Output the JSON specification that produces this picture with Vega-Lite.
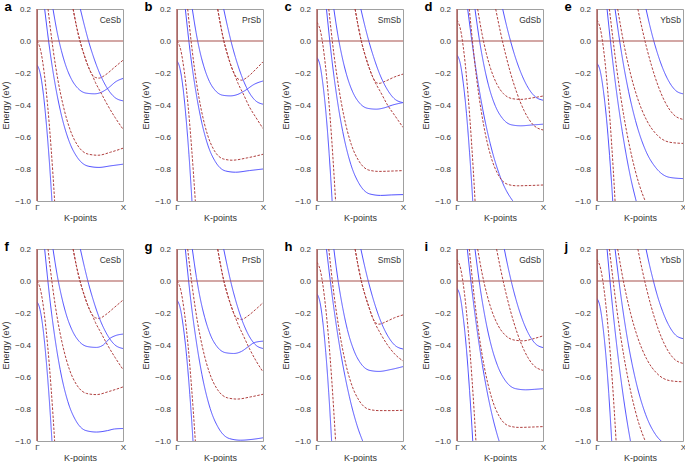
{
"$schema":"https://vega.github.io/schema/vega-lite/v6.json",
"padding":{"left":0,"top":0,"right":0,"bottom":0},
"config":{"font":"Liberation Sans","view":{"stroke":"#a0a0a0","strokeWidth":1},
"axis":{"ticks":false,"domain":false,"grid":false,"labelFontSize":8,"titleFontSize":9,"titleFontWeight":"normal","labelColor":"#333","titleColor":"#333","labelOverlap":false,"labelBound":false},
"axisY":{"labelPadding":6.5,"titlePadding":4.7,"tickCount":7},"axisX":{"labelPadding":2,"titlePadding":2},
"title":{"anchor":"start","frame":"group","dx":-32.5,"fontSize":13,"fontWeight":"bold","color":"#000","offset":-9,"baseline":"alphabetic"}},
"datasets":{"bands":[
{"p":"a","l":1,"t":"r","k":0,"e":0},{"p":"a","l":1,"t":"r","k":0.041,"e":-0.055},{"p":"a","l":1,"t":"r","k":0.082,"e":-0.192},{"p":"a","l":1,"t":"r","k":0.123,"e":-0.399},{"p":"a","l":1,"t":"r","k":0.164,"e":-0.669},{"p":"a","l":1,"t":"r","k":0.205,"e":-1},{"p":"a","l":1,"t":"r","k":0.215,"e":-1.092},
{"p":"a","l":2,"t":"b","k":0,"e":-0.15},{"p":"a","l":2,"t":"b","k":0.035,"e":-0.197},{"p":"a","l":2,"t":"b","k":0.07,"e":-0.313},{"p":"a","l":2,"t":"b","k":0.104,"e":-0.489},{"p":"a","l":2,"t":"b","k":0.139,"e":-0.719},{"p":"a","l":2,"t":"b","k":0.174,"e":-1},{"p":"a","l":2,"t":"b","k":0.183,"e":-1.078},
{"p":"a","l":3,"t":"b","k":0.089,"e":0.2},{"p":"a","l":3,"t":"b","k":0.152,"e":-0.068},{"p":"a","l":3,"t":"b","k":0.215,"e":-0.283},{"p":"a","l":3,"t":"b","k":0.278,"e":-0.45},{"p":"a","l":3,"t":"b","k":0.373,"e":-0.626},{"p":"a","l":3,"t":"b","k":0.468,"e":-0.727},{"p":"a","l":3,"t":"b","k":0.594,"e":-0.782},{"p":"a","l":3,"t":"b","k":0.72,"e":-0.79},{"p":"a","l":3,"t":"b","k":0.86,"e":-0.78},{"p":"a","l":3,"t":"b","k":1,"e":-0.77},
{"p":"a","l":4,"t":"r","k":0.128,"e":0.2},{"p":"a","l":4,"t":"r","k":0.186,"e":-0.048},{"p":"a","l":4,"t":"r","k":0.244,"e":-0.246},{"p":"a","l":4,"t":"r","k":0.303,"e":-0.4},{"p":"a","l":4,"t":"r","k":0.39,"e":-0.562},{"p":"a","l":4,"t":"r","k":0.477,"e":-0.656},{"p":"a","l":4,"t":"r","k":0.594,"e":-0.707},{"p":"a","l":4,"t":"r","k":0.71,"e":-0.714},{"p":"a","l":4,"t":"r","k":0.855,"e":-0.695},{"p":"a","l":4,"t":"r","k":1,"e":-0.67},
{"p":"a","l":5,"t":"b","k":0.186,"e":0.2},{"p":"a","l":5,"t":"b","k":0.234,"e":0.056},{"p":"a","l":5,"t":"b","k":0.283,"e":-0.059},{"p":"a","l":5,"t":"b","k":0.331,"e":-0.148},{"p":"a","l":5,"t":"b","k":0.404,"e":-0.242},{"p":"a","l":5,"t":"b","k":0.476,"e":-0.296},{"p":"a","l":5,"t":"b","k":0.573,"e":-0.326},{"p":"a","l":5,"t":"b","k":0.67,"e":-0.33},{"p":"a","l":5,"t":"b","k":0.75,"e":-0.32},{"p":"a","l":5,"t":"b","k":0.83,"e":-0.293},{"p":"a","l":5,"t":"b","k":0.92,"e":-0.253},{"p":"a","l":5,"t":"b","k":1,"e":-0.234},
{"p":"a","l":6,"t":"r","k":0.42,"e":0.2},{"p":"a","l":6,"t":"r","k":0.46,"e":0.09},{"p":"a","l":6,"t":"r","k":0.5,"e":0},{"p":"a","l":6,"t":"r","k":0.55,"e":-0.09},{"p":"a","l":6,"t":"r","k":0.6,"e":-0.165},{"p":"a","l":6,"t":"r","k":0.64,"e":-0.21},{"p":"a","l":6,"t":"r","k":0.68,"e":-0.228},{"p":"a","l":6,"t":"r","k":0.72,"e":-0.232},{"p":"a","l":6,"t":"r","k":0.8,"e":-0.21},{"p":"a","l":6,"t":"r","k":0.9,"e":-0.165},{"p":"a","l":6,"t":"r","k":1,"e":-0.12},
{"p":"a","l":7,"t":"r","k":0.42,"e":0.2},{"p":"a","l":7,"t":"r","k":0.46,"e":0.09},{"p":"a","l":7,"t":"r","k":0.5,"e":0},{"p":"a","l":7,"t":"r","k":0.55,"e":-0.09},{"p":"a","l":7,"t":"r","k":0.6,"e":-0.165},{"p":"a","l":7,"t":"r","k":0.64,"e":-0.21},{"p":"a","l":7,"t":"r","k":0.68,"e":-0.26},{"p":"a","l":7,"t":"r","k":0.74,"e":-0.32},{"p":"a","l":7,"t":"r","k":0.82,"e":-0.4},{"p":"a","l":7,"t":"r","k":0.91,"e":-0.48},{"p":"a","l":7,"t":"r","k":1,"e":-0.551},
{"p":"a","l":8,"t":"b","k":0.504,"e":0.2},{"p":"a","l":8,"t":"b","k":0.554,"e":0.091},{"p":"a","l":8,"t":"b","k":0.603,"e":-0.007},{"p":"a","l":8,"t":"b","k":0.653,"e":-0.093},{"p":"a","l":8,"t":"b","k":0.727,"e":-0.2},{"p":"a","l":8,"t":"b","k":0.802,"e":-0.282},{"p":"a","l":8,"t":"b","k":0.901,"e":-0.351},{"p":"a","l":8,"t":"b","k":1,"e":-0.374},

{"p":"b","l":1,"t":"r","k":0,"e":0},{"p":"b","l":1,"t":"r","k":0.043,"e":-0.055},{"p":"b","l":1,"t":"r","k":0.085,"e":-0.192},{"p":"b","l":1,"t":"r","k":0.128,"e":-0.399},{"p":"b","l":1,"t":"r","k":0.17,"e":-0.669},{"p":"b","l":1,"t":"r","k":0.213,"e":-1},{"p":"b","l":1,"t":"r","k":0.224,"e":-1.092},
{"p":"b","l":2,"t":"b","k":0,"e":-0.125},{"p":"b","l":2,"t":"b","k":0.035,"e":-0.173},{"p":"b","l":2,"t":"b","k":0.07,"e":-0.293},{"p":"b","l":2,"t":"b","k":0.104,"e":-0.474},{"p":"b","l":2,"t":"b","k":0.139,"e":-0.71},{"p":"b","l":2,"t":"b","k":0.174,"e":-1},{"p":"b","l":2,"t":"b","k":0.183,"e":-1.08},
{"p":"b","l":3,"t":"b","k":0.097,"e":0.2},{"p":"b","l":3,"t":"b","k":0.155,"e":-0.076},{"p":"b","l":3,"t":"b","k":0.214,"e":-0.298},{"p":"b","l":3,"t":"b","k":0.272,"e":-0.47},{"p":"b","l":3,"t":"b","k":0.359,"e":-0.651},{"p":"b","l":3,"t":"b","k":0.447,"e":-0.755},{"p":"b","l":3,"t":"b","k":0.563,"e":-0.812},{"p":"b","l":3,"t":"b","k":0.68,"e":-0.82},{"p":"b","l":3,"t":"b","k":0.84,"e":-0.81},{"p":"b","l":3,"t":"b","k":1,"e":-0.8},
{"p":"b","l":4,"t":"r","k":0.124,"e":0.2},{"p":"b","l":4,"t":"r","k":0.176,"e":-0.056},{"p":"b","l":4,"t":"r","k":0.227,"e":-0.261},{"p":"b","l":4,"t":"r","k":0.279,"e":-0.421},{"p":"b","l":4,"t":"r","k":0.356,"e":-0.588},{"p":"b","l":4,"t":"r","k":0.434,"e":-0.685},{"p":"b","l":4,"t":"r","k":0.537,"e":-0.737},{"p":"b","l":4,"t":"r","k":0.64,"e":-0.745},{"p":"b","l":4,"t":"r","k":0.82,"e":-0.73},{"p":"b","l":4,"t":"r","k":1,"e":-0.708},
{"p":"b","l":5,"t":"b","k":0.178,"e":0.2},{"p":"b","l":5,"t":"b","k":0.222,"e":0.053},{"p":"b","l":5,"t":"b","k":0.266,"e":-0.065},{"p":"b","l":5,"t":"b","k":0.311,"e":-0.157},{"p":"b","l":5,"t":"b","k":0.377,"e":-0.253},{"p":"b","l":5,"t":"b","k":0.443,"e":-0.308},{"p":"b","l":5,"t":"b","k":0.532,"e":-0.339},{"p":"b","l":5,"t":"b","k":0.62,"e":-0.343},{"p":"b","l":5,"t":"b","k":0.7,"e":-0.335},{"p":"b","l":5,"t":"b","k":0.79,"e":-0.31},{"p":"b","l":5,"t":"b","k":0.9,"e":-0.27},{"p":"b","l":5,"t":"b","k":1,"e":-0.25},
{"p":"b","l":6,"t":"r","k":0.473,"e":0.2},{"p":"b","l":6,"t":"r","k":0.51,"e":0.09},{"p":"b","l":6,"t":"r","k":0.545,"e":0},{"p":"b","l":6,"t":"r","k":0.59,"e":-0.09},{"p":"b","l":6,"t":"r","k":0.635,"e":-0.165},{"p":"b","l":6,"t":"r","k":0.67,"e":-0.21},{"p":"b","l":6,"t":"r","k":0.71,"e":-0.237},{"p":"b","l":6,"t":"r","k":0.75,"e":-0.245},{"p":"b","l":6,"t":"r","k":0.82,"e":-0.225},{"p":"b","l":6,"t":"r","k":0.91,"e":-0.18},{"p":"b","l":6,"t":"r","k":1,"e":-0.13},
{"p":"b","l":7,"t":"r","k":0.473,"e":0.2},{"p":"b","l":7,"t":"r","k":0.51,"e":0.09},{"p":"b","l":7,"t":"r","k":0.545,"e":0},{"p":"b","l":7,"t":"r","k":0.59,"e":-0.09},{"p":"b","l":7,"t":"r","k":0.635,"e":-0.165},{"p":"b","l":7,"t":"r","k":0.67,"e":-0.21},{"p":"b","l":7,"t":"r","k":0.71,"e":-0.265},{"p":"b","l":7,"t":"r","k":0.77,"e":-0.33},{"p":"b","l":7,"t":"r","k":0.84,"e":-0.41},{"p":"b","l":7,"t":"r","k":0.92,"e":-0.48},{"p":"b","l":7,"t":"r","k":1,"e":-0.547},
{"p":"b","l":8,"t":"b","k":0.543,"e":0.2},{"p":"b","l":8,"t":"b","k":0.589,"e":0.087},{"p":"b","l":8,"t":"b","k":0.634,"e":-0.014},{"p":"b","l":8,"t":"b","k":0.68,"e":-0.103},{"p":"b","l":8,"t":"b","k":0.749,"e":-0.215},{"p":"b","l":8,"t":"b","k":0.817,"e":-0.3},{"p":"b","l":8,"t":"b","k":0.909,"e":-0.371},{"p":"b","l":8,"t":"b","k":1,"e":-0.395},

{"p":"c","l":1,"t":"r","k":0,"e":0.117},{"p":"c","l":1,"t":"r","k":0.043,"e":0.056},{"p":"c","l":1,"t":"r","k":0.086,"e":-0.097},{"p":"c","l":1,"t":"r","k":0.13,"e":-0.329},{"p":"c","l":1,"t":"r","k":0.173,"e":-0.63},{"p":"c","l":1,"t":"r","k":0.216,"e":-1},{"p":"c","l":1,"t":"r","k":0.227,"e":-1.103},
{"p":"c","l":2,"t":"b","k":0,"e":-0.103},{"p":"c","l":2,"t":"b","k":0.035,"e":-0.152},{"p":"c","l":2,"t":"b","k":0.07,"e":-0.275},{"p":"c","l":2,"t":"b","k":0.106,"e":-0.461},{"p":"c","l":2,"t":"b","k":0.141,"e":-0.703},{"p":"c","l":2,"t":"b","k":0.176,"e":-1},{"p":"c","l":2,"t":"b","k":0.185,"e":-1.082},
{"p":"c","l":3,"t":"b","k":0.11,"e":0.2},{"p":"c","l":3,"t":"b","k":0.173,"e":-0.116},{"p":"c","l":3,"t":"b","k":0.236,"e":-0.369},{"p":"c","l":3,"t":"b","k":0.299,"e":-0.565},{"p":"c","l":3,"t":"b","k":0.394,"e":-0.772},{"p":"c","l":3,"t":"b","k":0.488,"e":-0.89},{"p":"c","l":3,"t":"b","k":0.614,"e":-0.956},{"p":"c","l":3,"t":"b","k":0.74,"e":-0.965},{"p":"c","l":3,"t":"b","k":0.87,"e":-0.962},{"p":"c","l":3,"t":"b","k":1,"e":-0.96},
{"p":"c","l":4,"t":"r","k":0.137,"e":0.2},{"p":"c","l":4,"t":"r","k":0.195,"e":-0.075},{"p":"c","l":4,"t":"r","k":0.254,"e":-0.295},{"p":"c","l":4,"t":"r","k":0.312,"e":-0.467},{"p":"c","l":4,"t":"r","k":0.399,"e":-0.647},{"p":"c","l":4,"t":"r","k":0.487,"e":-0.75},{"p":"c","l":4,"t":"r","k":0.603,"e":-0.807},{"p":"c","l":4,"t":"r","k":0.72,"e":-0.815},{"p":"c","l":4,"t":"r","k":0.86,"e":-0.813},{"p":"c","l":4,"t":"r","k":1,"e":-0.81},
{"p":"c","l":5,"t":"b","k":0.196,"e":0.2},{"p":"c","l":5,"t":"b","k":0.245,"e":0.03},{"p":"c","l":5,"t":"b","k":0.295,"e":-0.106},{"p":"c","l":5,"t":"b","k":0.344,"e":-0.211},{"p":"c","l":5,"t":"b","k":0.418,"e":-0.322},{"p":"c","l":5,"t":"b","k":0.492,"e":-0.386},{"p":"c","l":5,"t":"b","k":0.591,"e":-0.421},{"p":"c","l":5,"t":"b","k":0.69,"e":-0.426},{"p":"c","l":5,"t":"b","k":0.78,"e":-0.418},{"p":"c","l":5,"t":"b","k":0.88,"e":-0.4},{"p":"c","l":5,"t":"b","k":1,"e":-0.385},
{"p":"c","l":6,"t":"r","k":0.443,"e":0.2},{"p":"c","l":6,"t":"r","k":0.48,"e":0.09},{"p":"c","l":6,"t":"r","k":0.515,"e":0},{"p":"c","l":6,"t":"r","k":0.56,"e":-0.09},{"p":"c","l":6,"t":"r","k":0.605,"e":-0.165},{"p":"c","l":6,"t":"r","k":0.64,"e":-0.215},{"p":"c","l":6,"t":"r","k":0.68,"e":-0.255},{"p":"c","l":6,"t":"r","k":0.72,"e":-0.265},{"p":"c","l":6,"t":"r","k":0.8,"e":-0.25},{"p":"c","l":6,"t":"r","k":0.9,"e":-0.225},{"p":"c","l":6,"t":"r","k":1,"e":-0.207},
{"p":"c","l":7,"t":"r","k":0.443,"e":0.2},{"p":"c","l":7,"t":"r","k":0.48,"e":0.09},{"p":"c","l":7,"t":"r","k":0.515,"e":0},{"p":"c","l":7,"t":"r","k":0.56,"e":-0.09},{"p":"c","l":7,"t":"r","k":0.605,"e":-0.165},{"p":"c","l":7,"t":"r","k":0.64,"e":-0.215},{"p":"c","l":7,"t":"r","k":0.68,"e":-0.262},{"p":"c","l":7,"t":"r","k":0.74,"e":-0.32},{"p":"c","l":7,"t":"r","k":0.82,"e":-0.4},{"p":"c","l":7,"t":"r","k":0.91,"e":-0.47},{"p":"c","l":7,"t":"r","k":1,"e":-0.54},
{"p":"c","l":8,"t":"b","k":0.51,"e":0.2},{"p":"c","l":8,"t":"b","k":0.559,"e":0.089},{"p":"c","l":8,"t":"b","k":0.608,"e":-0.011},{"p":"c","l":8,"t":"b","k":0.657,"e":-0.098},{"p":"c","l":8,"t":"b","k":0.73,"e":-0.208},{"p":"c","l":8,"t":"b","k":0.804,"e":-0.291},{"p":"c","l":8,"t":"b","k":0.902,"e":-0.362},{"p":"c","l":8,"t":"b","k":1,"e":-0.385},

{"p":"d","l":1,"t":"r","k":0,"e":0.131},{"p":"d","l":1,"t":"r","k":0.042,"e":0.069},{"p":"d","l":1,"t":"r","k":0.084,"e":-0.086},{"p":"d","l":1,"t":"r","k":0.126,"e":-0.32},{"p":"d","l":1,"t":"r","k":0.168,"e":-0.626},{"p":"d","l":1,"t":"r","k":0.21,"e":-1},{"p":"d","l":1,"t":"r","k":0.22,"e":-1.104},
{"p":"d","l":2,"t":"b","k":0,"e":-0.088},{"p":"d","l":2,"t":"b","k":0.037,"e":-0.138},{"p":"d","l":2,"t":"b","k":0.073,"e":-0.263},{"p":"d","l":2,"t":"b","k":0.11,"e":-0.452},{"p":"d","l":2,"t":"b","k":0.146,"e":-0.698},{"p":"d","l":2,"t":"b","k":0.183,"e":-1},{"p":"d","l":2,"t":"b","k":0.192,"e":-1.084},
{"p":"d","l":3,"t":"b","k":0.124,"e":0.2},{"p":"d","l":3,"t":"b","k":0.212,"e":-0.148},{"p":"d","l":3,"t":"b","k":0.299,"e":-0.426},{"p":"d","l":3,"t":"b","k":0.387,"e":-0.643},{"p":"d","l":3,"t":"b","k":0.518,"e":-0.87},{"p":"d","l":3,"t":"b","k":0.65,"e":-1},{"p":"d","l":3,"t":"b","k":0.737,"e":-1.048},
{"p":"d","l":4,"t":"r","k":0.143,"e":0.2},{"p":"d","l":4,"t":"r","k":0.199,"e":-0.099},{"p":"d","l":4,"t":"r","k":0.254,"e":-0.339},{"p":"d","l":4,"t":"r","k":0.31,"e":-0.526},{"p":"d","l":4,"t":"r","k":0.394,"e":-0.722},{"p":"d","l":4,"t":"r","k":0.477,"e":-0.834},{"p":"d","l":4,"t":"r","k":0.589,"e":-0.896},{"p":"d","l":4,"t":"r","k":0.7,"e":-0.905},{"p":"d","l":4,"t":"r","k":0.85,"e":-0.903},{"p":"d","l":4,"t":"r","k":1,"e":-0.9},
{"p":"d","l":5,"t":"b","k":0.209,"e":0.2},{"p":"d","l":5,"t":"b","k":0.262,"e":0.002},{"p":"d","l":5,"t":"b","k":0.315,"e":-0.156},{"p":"d","l":5,"t":"b","k":0.368,"e":-0.28},{"p":"d","l":5,"t":"b","k":0.448,"e":-0.409},{"p":"d","l":5,"t":"b","k":0.528,"e":-0.483},{"p":"d","l":5,"t":"b","k":0.634,"e":-0.524},{"p":"d","l":5,"t":"b","k":0.74,"e":-0.53},{"p":"d","l":5,"t":"b","k":0.87,"e":-0.525},{"p":"d","l":5,"t":"b","k":1,"e":-0.52},
{"p":"d","l":6,"t":"r","k":0.24,"e":0.2},{"p":"d","l":6,"t":"r","k":0.29,"e":0.047},{"p":"d","l":6,"t":"r","k":0.34,"e":-0.076},{"p":"d","l":6,"t":"r","k":0.39,"e":-0.171},{"p":"d","l":6,"t":"r","k":0.465,"e":-0.271},{"p":"d","l":6,"t":"r","k":0.54,"e":-0.329},{"p":"d","l":6,"t":"r","k":0.64,"e":-0.36},{"p":"d","l":6,"t":"r","k":0.74,"e":-0.365},{"p":"d","l":6,"t":"r","k":0.87,"e":-0.356},{"p":"d","l":6,"t":"r","k":1,"e":-0.344},
{"p":"d","l":7,"t":"r","k":0.45,"e":0.2},{"p":"d","l":7,"t":"r","k":0.505,"e":0.056},{"p":"d","l":7,"t":"r","k":0.56,"e":-0.072},{"p":"d","l":7,"t":"r","k":0.615,"e":-0.186},{"p":"d","l":7,"t":"r","k":0.698,"e":-0.327},{"p":"d","l":7,"t":"r","k":0.78,"e":-0.435},{"p":"d","l":7,"t":"r","k":0.89,"e":-0.526},{"p":"d","l":7,"t":"r","k":1,"e":-0.556},
{"p":"d","l":8,"t":"b","k":0.531,"e":0.2},{"p":"d","l":8,"t":"b","k":0.578,"e":0.092},{"p":"d","l":8,"t":"b","k":0.625,"e":-0.005},{"p":"d","l":8,"t":"b","k":0.672,"e":-0.091},{"p":"d","l":8,"t":"b","k":0.743,"e":-0.198},{"p":"d","l":8,"t":"b","k":0.813,"e":-0.279},{"p":"d","l":8,"t":"b","k":0.907,"e":-0.347},{"p":"d","l":8,"t":"b","k":1,"e":-0.37},

{"p":"e","l":1,"t":"r","k":0,"e":0.131},{"p":"e","l":1,"t":"r","k":0.042,"e":0.069},{"p":"e","l":1,"t":"r","k":0.084,"e":-0.086},{"p":"e","l":1,"t":"r","k":0.126,"e":-0.32},{"p":"e","l":1,"t":"r","k":0.168,"e":-0.626},{"p":"e","l":1,"t":"r","k":0.21,"e":-1},{"p":"e","l":1,"t":"r","k":0.22,"e":-1.104},
{"p":"e","l":2,"t":"b","k":0,"e":-0.14},{"p":"e","l":2,"t":"b","k":0.037,"e":-0.187},{"p":"e","l":2,"t":"b","k":0.073,"e":-0.305},{"p":"e","l":2,"t":"b","k":0.11,"e":-0.483},{"p":"e","l":2,"t":"b","k":0.146,"e":-0.715},{"p":"e","l":2,"t":"b","k":0.183,"e":-1},{"p":"e","l":2,"t":"b","k":0.192,"e":-1.079},
{"p":"e","l":3,"t":"b","k":0.117,"e":0.2},{"p":"e","l":3,"t":"b","k":0.161,"e":-0.024},{"p":"e","l":3,"t":"b","k":0.205,"e":-0.225},{"p":"e","l":3,"t":"b","k":0.294,"e":-0.566},{"p":"e","l":3,"t":"b","k":0.382,"e":-0.831},{"p":"e","l":3,"t":"b","k":0.47,"e":-1.03},
{"p":"e","l":4,"t":"r","k":0.144,"e":0.2},{"p":"e","l":4,"t":"r","k":0.23,"e":-0.176},{"p":"e","l":4,"t":"r","k":0.315,"e":-0.478},{"p":"e","l":4,"t":"r","k":0.401,"e":-0.713},{"p":"e","l":4,"t":"r","k":0.486,"e":-0.889},{"p":"e","l":4,"t":"r","k":0.572,"e":-1.015},
{"p":"e","l":5,"t":"b","k":0.21,"e":0.2},{"p":"e","l":5,"t":"b","k":0.289,"e":-0.087},{"p":"e","l":5,"t":"b","k":0.368,"e":-0.317},{"p":"e","l":5,"t":"b","k":0.447,"e":-0.496},{"p":"e","l":5,"t":"b","k":0.565,"e":-0.684},{"p":"e","l":5,"t":"b","k":0.684,"e":-0.792},{"p":"e","l":5,"t":"b","k":0.842,"e":-0.852},{"p":"e","l":5,"t":"b","k":1,"e":-0.86},
{"p":"e","l":6,"t":"r","k":0.24,"e":0.2},{"p":"e","l":6,"t":"r","k":0.316,"e":-0.028},{"p":"e","l":6,"t":"r","k":0.392,"e":-0.21},{"p":"e","l":6,"t":"r","k":0.468,"e":-0.352},{"p":"e","l":6,"t":"r","k":0.582,"e":-0.5},{"p":"e","l":6,"t":"r","k":0.696,"e":-0.586},{"p":"e","l":6,"t":"r","k":0.848,"e":-0.633},{"p":"e","l":6,"t":"r","k":1,"e":-0.64},
{"p":"e","l":7,"t":"r","k":0.475,"e":0.2},{"p":"e","l":7,"t":"r","k":0.528,"e":0.069},{"p":"e","l":7,"t":"r","k":0.58,"e":-0.048},{"p":"e","l":7,"t":"r","k":0.633,"e":-0.152},{"p":"e","l":7,"t":"r","k":0.711,"e":-0.281},{"p":"e","l":7,"t":"r","k":0.79,"e":-0.38},{"p":"e","l":7,"t":"r","k":0.895,"e":-0.462},{"p":"e","l":7,"t":"r","k":1,"e":-0.49},
{"p":"e","l":8,"t":"b","k":0.57,"e":0.2},{"p":"e","l":8,"t":"b","k":0.613,"e":0.099},{"p":"e","l":8,"t":"b","k":0.656,"e":0.009},{"p":"e","l":8,"t":"b","k":0.699,"e":-0.07},{"p":"e","l":8,"t":"b","k":0.764,"e":-0.17},{"p":"e","l":8,"t":"b","k":0.828,"e":-0.245},{"p":"e","l":8,"t":"b","k":0.914,"e":-0.309},{"p":"e","l":8,"t":"b","k":1,"e":-0.33},

{"p":"f","l":1,"t":"r","k":0,"e":0},{"p":"f","l":1,"t":"r","k":0.041,"e":-0.055},{"p":"f","l":1,"t":"r","k":0.082,"e":-0.192},{"p":"f","l":1,"t":"r","k":0.123,"e":-0.399},{"p":"f","l":1,"t":"r","k":0.164,"e":-0.669},{"p":"f","l":1,"t":"r","k":0.205,"e":-1},{"p":"f","l":1,"t":"r","k":0.215,"e":-1.092},
{"p":"f","l":2,"t":"b","k":0,"e":-0.13},{"p":"f","l":2,"t":"b","k":0.035,"e":-0.178},{"p":"f","l":2,"t":"b","k":0.07,"e":-0.297},{"p":"f","l":2,"t":"b","k":0.104,"e":-0.477},{"p":"f","l":2,"t":"b","k":0.139,"e":-0.712},{"p":"f","l":2,"t":"b","k":0.174,"e":-1},{"p":"f","l":2,"t":"b","k":0.183,"e":-1.08},
{"p":"f","l":3,"t":"b","k":0.089,"e":0.2},{"p":"f","l":3,"t":"b","k":0.149,"e":-0.11},{"p":"f","l":3,"t":"b","k":0.209,"e":-0.358},{"p":"f","l":3,"t":"b","k":0.269,"e":-0.552},{"p":"f","l":3,"t":"b","k":0.359,"e":-0.754},{"p":"f","l":3,"t":"b","k":0.45,"e":-0.871},{"p":"f","l":3,"t":"b","k":0.57,"e":-0.935},{"p":"f","l":3,"t":"b","k":0.69,"e":-0.944},{"p":"f","l":3,"t":"b","k":0.82,"e":-0.935},{"p":"f","l":3,"t":"b","k":0.9,"e":-0.925},{"p":"f","l":3,"t":"b","k":1,"e":-0.922},
{"p":"f","l":4,"t":"r","k":0.128,"e":0.2},{"p":"f","l":4,"t":"r","k":0.184,"e":-0.047},{"p":"f","l":4,"t":"r","k":0.24,"e":-0.244},{"p":"f","l":4,"t":"r","k":0.297,"e":-0.398},{"p":"f","l":4,"t":"r","k":0.381,"e":-0.559},{"p":"f","l":4,"t":"r","k":0.465,"e":-0.652},{"p":"f","l":4,"t":"r","k":0.578,"e":-0.703},{"p":"f","l":4,"t":"r","k":0.69,"e":-0.71},{"p":"f","l":4,"t":"r","k":0.84,"e":-0.69},{"p":"f","l":4,"t":"r","k":1,"e":-0.662},
{"p":"f","l":5,"t":"b","k":0.186,"e":0.2},{"p":"f","l":5,"t":"b","k":0.236,"e":0.033},{"p":"f","l":5,"t":"b","k":0.287,"e":-0.1},{"p":"f","l":5,"t":"b","k":0.337,"e":-0.204},{"p":"f","l":5,"t":"b","k":0.413,"e":-0.313},{"p":"f","l":5,"t":"b","k":0.488,"e":-0.376},{"p":"f","l":5,"t":"b","k":0.589,"e":-0.41},{"p":"f","l":5,"t":"b","k":0.69,"e":-0.415},{"p":"f","l":5,"t":"b","k":0.77,"e":-0.4},{"p":"f","l":5,"t":"b","k":0.845,"e":-0.36},{"p":"f","l":5,"t":"b","k":0.92,"e":-0.34},{"p":"f","l":5,"t":"b","k":1,"e":-0.332},
{"p":"f","l":6,"t":"r","k":0.42,"e":0.2},{"p":"f","l":6,"t":"r","k":0.46,"e":0.09},{"p":"f","l":6,"t":"r","k":0.5,"e":0},{"p":"f","l":6,"t":"r","k":0.55,"e":-0.09},{"p":"f","l":6,"t":"r","k":0.6,"e":-0.165},{"p":"f","l":6,"t":"r","k":0.64,"e":-0.21},{"p":"f","l":6,"t":"r","k":0.68,"e":-0.23},{"p":"f","l":6,"t":"r","k":0.72,"e":-0.234},{"p":"f","l":6,"t":"r","k":0.8,"e":-0.21},{"p":"f","l":6,"t":"r","k":0.9,"e":-0.165},{"p":"f","l":6,"t":"r","k":1,"e":-0.119},
{"p":"f","l":7,"t":"r","k":0.42,"e":0.2},{"p":"f","l":7,"t":"r","k":0.46,"e":0.09},{"p":"f","l":7,"t":"r","k":0.5,"e":0},{"p":"f","l":7,"t":"r","k":0.55,"e":-0.09},{"p":"f","l":7,"t":"r","k":0.6,"e":-0.165},{"p":"f","l":7,"t":"r","k":0.64,"e":-0.21},{"p":"f","l":7,"t":"r","k":0.68,"e":-0.26},{"p":"f","l":7,"t":"r","k":0.74,"e":-0.32},{"p":"f","l":7,"t":"r","k":0.82,"e":-0.4},{"p":"f","l":7,"t":"r","k":0.91,"e":-0.48},{"p":"f","l":7,"t":"r","k":1,"e":-0.553},
{"p":"f","l":8,"t":"b","k":0.504,"e":0.2},{"p":"f","l":8,"t":"b","k":0.554,"e":0.082},{"p":"f","l":8,"t":"b","k":0.603,"e":-0.024},{"p":"f","l":8,"t":"b","k":0.653,"e":-0.117},{"p":"f","l":8,"t":"b","k":0.727,"e":-0.234},{"p":"f","l":8,"t":"b","k":0.802,"e":-0.322},{"p":"f","l":8,"t":"b","k":0.901,"e":-0.397},{"p":"f","l":8,"t":"b","k":1,"e":-0.422},

{"p":"g","l":1,"t":"r","k":0,"e":0},{"p":"g","l":1,"t":"r","k":0.043,"e":-0.055},{"p":"g","l":1,"t":"r","k":0.085,"e":-0.192},{"p":"g","l":1,"t":"r","k":0.128,"e":-0.399},{"p":"g","l":1,"t":"r","k":0.17,"e":-0.669},{"p":"g","l":1,"t":"r","k":0.213,"e":-1},{"p":"g","l":1,"t":"r","k":0.224,"e":-1.092},
{"p":"g","l":2,"t":"b","k":0,"e":-0.12},{"p":"g","l":2,"t":"b","k":0.037,"e":-0.168},{"p":"g","l":2,"t":"b","k":0.074,"e":-0.289},{"p":"g","l":2,"t":"b","k":0.112,"e":-0.471},{"p":"g","l":2,"t":"b","k":0.149,"e":-0.709},{"p":"g","l":2,"t":"b","k":0.186,"e":-1},{"p":"g","l":2,"t":"b","k":0.195,"e":-1.081},
{"p":"g","l":3,"t":"b","k":0.097,"e":0.2},{"p":"g","l":3,"t":"b","k":0.161,"e":-0.124},{"p":"g","l":3,"t":"b","k":0.226,"e":-0.383},{"p":"g","l":3,"t":"b","k":0.29,"e":-0.585},{"p":"g","l":3,"t":"b","k":0.386,"e":-0.797},{"p":"g","l":3,"t":"b","k":0.483,"e":-0.919},{"p":"g","l":3,"t":"b","k":0.611,"e":-0.985},{"p":"g","l":3,"t":"b","k":0.74,"e":-0.995},{"p":"g","l":3,"t":"b","k":0.87,"e":-0.99},{"p":"g","l":3,"t":"b","k":1,"e":-0.98},
{"p":"g","l":4,"t":"r","k":0.124,"e":0.2},{"p":"g","l":4,"t":"r","k":0.182,"e":-0.054},{"p":"g","l":4,"t":"r","k":0.239,"e":-0.258},{"p":"g","l":4,"t":"r","k":0.297,"e":-0.416},{"p":"g","l":4,"t":"r","k":0.383,"e":-0.582},{"p":"g","l":4,"t":"r","k":0.47,"e":-0.678},{"p":"g","l":4,"t":"r","k":0.585,"e":-0.73},{"p":"g","l":4,"t":"r","k":0.7,"e":-0.738},{"p":"g","l":4,"t":"r","k":0.85,"e":-0.725},{"p":"g","l":4,"t":"r","k":1,"e":-0.708},
{"p":"g","l":5,"t":"b","k":0.178,"e":0.2},{"p":"g","l":5,"t":"b","k":0.226,"e":0.023},{"p":"g","l":5,"t":"b","k":0.274,"e":-0.119},{"p":"g","l":5,"t":"b","k":0.323,"e":-0.229},{"p":"g","l":5,"t":"b","k":0.395,"e":-0.345},{"p":"g","l":5,"t":"b","k":0.467,"e":-0.411},{"p":"g","l":5,"t":"b","k":0.564,"e":-0.448},{"p":"g","l":5,"t":"b","k":0.66,"e":-0.453},{"p":"g","l":5,"t":"b","k":0.75,"e":-0.44},{"p":"g","l":5,"t":"b","k":0.83,"e":-0.41},{"p":"g","l":5,"t":"b","k":0.9,"e":-0.385},{"p":"g","l":5,"t":"b","k":1,"e":-0.376},
{"p":"g","l":6,"t":"r","k":0.473,"e":0.2},{"p":"g","l":6,"t":"r","k":0.51,"e":0.09},{"p":"g","l":6,"t":"r","k":0.545,"e":0},{"p":"g","l":6,"t":"r","k":0.59,"e":-0.09},{"p":"g","l":6,"t":"r","k":0.635,"e":-0.165},{"p":"g","l":6,"t":"r","k":0.67,"e":-0.215},{"p":"g","l":6,"t":"r","k":0.71,"e":-0.235},{"p":"g","l":6,"t":"r","k":0.75,"e":-0.24},{"p":"g","l":6,"t":"r","k":0.82,"e":-0.22},{"p":"g","l":6,"t":"r","k":0.91,"e":-0.18},{"p":"g","l":6,"t":"r","k":1,"e":-0.136},
{"p":"g","l":7,"t":"r","k":0.473,"e":0.2},{"p":"g","l":7,"t":"r","k":0.51,"e":0.09},{"p":"g","l":7,"t":"r","k":0.545,"e":0},{"p":"g","l":7,"t":"r","k":0.59,"e":-0.09},{"p":"g","l":7,"t":"r","k":0.635,"e":-0.165},{"p":"g","l":7,"t":"r","k":0.67,"e":-0.215},{"p":"g","l":7,"t":"r","k":0.71,"e":-0.27},{"p":"g","l":7,"t":"r","k":0.77,"e":-0.34},{"p":"g","l":7,"t":"r","k":0.84,"e":-0.42},{"p":"g","l":7,"t":"r","k":0.92,"e":-0.5},{"p":"g","l":7,"t":"r","k":1,"e":-0.568},
{"p":"g","l":8,"t":"b","k":0.543,"e":0.2},{"p":"g","l":8,"t":"b","k":0.589,"e":0.082},{"p":"g","l":8,"t":"b","k":0.634,"e":-0.024},{"p":"g","l":8,"t":"b","k":0.68,"e":-0.117},{"p":"g","l":8,"t":"b","k":0.749,"e":-0.234},{"p":"g","l":8,"t":"b","k":0.817,"e":-0.322},{"p":"g","l":8,"t":"b","k":0.909,"e":-0.397},{"p":"g","l":8,"t":"b","k":1,"e":-0.422},

{"p":"h","l":1,"t":"r","k":0,"e":0.117},{"p":"h","l":1,"t":"r","k":0.043,"e":0.056},{"p":"h","l":1,"t":"r","k":0.086,"e":-0.097},{"p":"h","l":1,"t":"r","k":0.13,"e":-0.329},{"p":"h","l":1,"t":"r","k":0.173,"e":-0.63},{"p":"h","l":1,"t":"r","k":0.216,"e":-1},{"p":"h","l":1,"t":"r","k":0.227,"e":-1.103},
{"p":"h","l":2,"t":"b","k":0,"e":-0.08},{"p":"h","l":2,"t":"b","k":0.034,"e":-0.131},{"p":"h","l":2,"t":"b","k":0.068,"e":-0.257},{"p":"h","l":2,"t":"b","k":0.102,"e":-0.447},{"p":"h","l":2,"t":"b","k":0.136,"e":-0.695},{"p":"h","l":2,"t":"b","k":0.17,"e":-1},{"p":"h","l":2,"t":"b","k":0.179,"e":-1.085},
{"p":"h","l":3,"t":"b","k":0.11,"e":0.2},{"p":"h","l":3,"t":"b","k":0.155,"e":-0.001},{"p":"h","l":3,"t":"b","k":0.199,"e":-0.181},{"p":"h","l":3,"t":"b","k":0.288,"e":-0.487},{"p":"h","l":3,"t":"b","k":0.377,"e":-0.724},{"p":"h","l":3,"t":"b","k":0.466,"e":-0.903},{"p":"h","l":3,"t":"b","k":0.555,"e":-1.031},
{"p":"h","l":4,"t":"r","k":0.137,"e":0.2},{"p":"h","l":4,"t":"r","k":0.195,"e":-0.074},{"p":"h","l":4,"t":"r","k":0.254,"e":-0.293},{"p":"h","l":4,"t":"r","k":0.312,"e":-0.464},{"p":"h","l":4,"t":"r","k":0.399,"e":-0.642},{"p":"h","l":4,"t":"r","k":0.487,"e":-0.745},{"p":"h","l":4,"t":"r","k":0.603,"e":-0.802},{"p":"h","l":4,"t":"r","k":0.72,"e":-0.81},{"p":"h","l":4,"t":"r","k":0.86,"e":-0.81},{"p":"h","l":4,"t":"r","k":1,"e":-0.808},
{"p":"h","l":5,"t":"b","k":0.196,"e":0.2},{"p":"h","l":5,"t":"b","k":0.248,"e":-0.007},{"p":"h","l":5,"t":"b","k":0.301,"e":-0.173},{"p":"h","l":5,"t":"b","k":0.353,"e":-0.303},{"p":"h","l":5,"t":"b","k":0.432,"e":-0.438},{"p":"h","l":5,"t":"b","k":0.51,"e":-0.516},{"p":"h","l":5,"t":"b","k":0.615,"e":-0.559},{"p":"h","l":5,"t":"b","k":0.72,"e":-0.565},{"p":"h","l":5,"t":"b","k":0.86,"e":-0.553},{"p":"h","l":5,"t":"b","k":1,"e":-0.535},
{"p":"h","l":6,"t":"r","k":0.443,"e":0.2},{"p":"h","l":6,"t":"r","k":0.48,"e":0.09},{"p":"h","l":6,"t":"r","k":0.515,"e":0},{"p":"h","l":6,"t":"r","k":0.56,"e":-0.09},{"p":"h","l":6,"t":"r","k":0.605,"e":-0.165},{"p":"h","l":6,"t":"r","k":0.64,"e":-0.22},{"p":"h","l":6,"t":"r","k":0.68,"e":-0.26},{"p":"h","l":6,"t":"r","k":0.72,"e":-0.27},{"p":"h","l":6,"t":"r","k":0.8,"e":-0.255},{"p":"h","l":6,"t":"r","k":0.9,"e":-0.23},{"p":"h","l":6,"t":"r","k":1,"e":-0.212},
{"p":"h","l":7,"t":"r","k":0.443,"e":0.2},{"p":"h","l":7,"t":"r","k":0.48,"e":0.09},{"p":"h","l":7,"t":"r","k":0.515,"e":0},{"p":"h","l":7,"t":"r","k":0.56,"e":-0.09},{"p":"h","l":7,"t":"r","k":0.605,"e":-0.165},{"p":"h","l":7,"t":"r","k":0.64,"e":-0.22},{"p":"h","l":7,"t":"r","k":0.68,"e":-0.27},{"p":"h","l":7,"t":"r","k":0.74,"e":-0.33},{"p":"h","l":7,"t":"r","k":0.82,"e":-0.4},{"p":"h","l":7,"t":"r","k":0.91,"e":-0.46},{"p":"h","l":7,"t":"r","k":1,"e":-0.5},
{"p":"h","l":8,"t":"b","k":0.51,"e":0.2},{"p":"h","l":8,"t":"b","k":0.559,"e":0.081},{"p":"h","l":8,"t":"b","k":0.608,"e":-0.025},{"p":"h","l":8,"t":"b","k":0.657,"e":-0.119},{"p":"h","l":8,"t":"b","k":0.73,"e":-0.236},{"p":"h","l":8,"t":"b","k":0.804,"e":-0.325},{"p":"h","l":8,"t":"b","k":0.902,"e":-0.4},{"p":"h","l":8,"t":"b","k":1,"e":-0.425},

{"p":"i","l":1,"t":"r","k":0,"e":0.135},{"p":"i","l":1,"t":"r","k":0.044,"e":0.073},{"p":"i","l":1,"t":"r","k":0.088,"e":-0.083},{"p":"i","l":1,"t":"r","k":0.132,"e":-0.318},{"p":"i","l":1,"t":"r","k":0.176,"e":-0.624},{"p":"i","l":1,"t":"r","k":0.22,"e":-1},{"p":"i","l":1,"t":"r","k":0.231,"e":-1.104},
{"p":"i","l":2,"t":"b","k":0,"e":-0.046},{"p":"i","l":2,"t":"b","k":0.037,"e":-0.098},{"p":"i","l":2,"t":"b","k":0.073,"e":-0.229},{"p":"i","l":2,"t":"b","k":0.11,"e":-0.427},{"p":"i","l":2,"t":"b","k":0.146,"e":-0.684},{"p":"i","l":2,"t":"b","k":0.183,"e":-1},{"p":"i","l":2,"t":"b","k":0.192,"e":-1.088},
{"p":"i","l":3,"t":"b","k":0.12,"e":0.2},{"p":"i","l":3,"t":"b","k":0.164,"e":-0.013},{"p":"i","l":3,"t":"b","k":0.208,"e":-0.204},{"p":"i","l":3,"t":"b","k":0.296,"e":-0.528},{"p":"i","l":3,"t":"b","k":0.384,"e":-0.78},{"p":"i","l":3,"t":"b","k":0.472,"e":-0.969},{"p":"i","l":3,"t":"b","k":0.56,"e":-1.105},
{"p":"i","l":4,"t":"r","k":0.143,"e":0.2},{"p":"i","l":4,"t":"r","k":0.201,"e":-0.102},{"p":"i","l":4,"t":"r","k":0.258,"e":-0.344},{"p":"i","l":4,"t":"r","k":0.316,"e":-0.533},{"p":"i","l":4,"t":"r","k":0.403,"e":-0.73},{"p":"i","l":4,"t":"r","k":0.489,"e":-0.844},{"p":"i","l":4,"t":"r","k":0.605,"e":-0.906},{"p":"i","l":4,"t":"r","k":0.72,"e":-0.915},{"p":"i","l":4,"t":"r","k":0.86,"e":-0.913},{"p":"i","l":4,"t":"r","k":1,"e":-0.91},
{"p":"i","l":5,"t":"b","k":0.209,"e":0.2},{"p":"i","l":5,"t":"b","k":0.268,"e":-0.038},{"p":"i","l":5,"t":"b","k":0.327,"e":-0.229},{"p":"i","l":5,"t":"b","k":0.386,"e":-0.378},{"p":"i","l":5,"t":"b","k":0.475,"e":-0.534},{"p":"i","l":5,"t":"b","k":0.564,"e":-0.624},{"p":"i","l":5,"t":"b","k":0.682,"e":-0.673},{"p":"i","l":5,"t":"b","k":0.8,"e":-0.68},{"p":"i","l":5,"t":"b","k":0.9,"e":-0.677},{"p":"i","l":5,"t":"b","k":1,"e":-0.673},
{"p":"i","l":6,"t":"r","k":0.24,"e":0.2},{"p":"i","l":6,"t":"r","k":0.293,"e":0.044},{"p":"i","l":6,"t":"r","k":0.346,"e":-0.08},{"p":"i","l":6,"t":"r","k":0.399,"e":-0.177},{"p":"i","l":6,"t":"r","k":0.479,"e":-0.279},{"p":"i","l":6,"t":"r","k":0.558,"e":-0.337},{"p":"i","l":6,"t":"r","k":0.664,"e":-0.369},{"p":"i","l":6,"t":"r","k":0.77,"e":-0.374},{"p":"i","l":6,"t":"r","k":0.88,"e":-0.362},{"p":"i","l":6,"t":"r","k":1,"e":-0.343},
{"p":"i","l":7,"t":"r","k":0.46,"e":0.2},{"p":"i","l":7,"t":"r","k":0.514,"e":0.056},{"p":"i","l":7,"t":"r","k":0.568,"e":-0.073},{"p":"i","l":7,"t":"r","k":0.622,"e":-0.187},{"p":"i","l":7,"t":"r","k":0.703,"e":-0.329},{"p":"i","l":7,"t":"r","k":0.784,"e":-0.437},{"p":"i","l":7,"t":"r","k":0.892,"e":-0.528},{"p":"i","l":7,"t":"r","k":1,"e":-0.558},
{"p":"i","l":8,"t":"b","k":0.55,"e":0.2},{"p":"i","l":8,"t":"b","k":0.595,"e":0.083},{"p":"i","l":8,"t":"b","k":0.64,"e":-0.022},{"p":"i","l":8,"t":"b","k":0.685,"e":-0.114},{"p":"i","l":8,"t":"b","k":0.753,"e":-0.23},{"p":"i","l":8,"t":"b","k":0.82,"e":-0.317},{"p":"i","l":8,"t":"b","k":0.91,"e":-0.391},{"p":"i","l":8,"t":"b","k":1,"e":-0.416},

{"p":"j","l":1,"t":"r","k":0,"e":0.135},{"p":"j","l":1,"t":"r","k":0.044,"e":0.073},{"p":"j","l":1,"t":"r","k":0.089,"e":-0.083},{"p":"j","l":1,"t":"r","k":0.133,"e":-0.318},{"p":"j","l":1,"t":"r","k":0.178,"e":-0.624},{"p":"j","l":1,"t":"r","k":0.222,"e":-1},{"p":"j","l":1,"t":"r","k":0.233,"e":-1.104},
{"p":"j","l":2,"t":"b","k":0,"e":-0.109},{"p":"j","l":2,"t":"b","k":0.034,"e":-0.158},{"p":"j","l":2,"t":"b","k":0.068,"e":-0.28},{"p":"j","l":2,"t":"b","k":0.103,"e":-0.464},{"p":"j","l":2,"t":"b","k":0.137,"e":-0.705},{"p":"j","l":2,"t":"b","k":0.171,"e":-1},{"p":"j","l":2,"t":"b","k":0.18,"e":-1.082},
{"p":"j","l":3,"t":"b","k":0.117,"e":0.2},{"p":"j","l":3,"t":"b","k":0.161,"e":-0.056},{"p":"j","l":3,"t":"b","k":0.205,"e":-0.286},{"p":"j","l":3,"t":"b","k":0.294,"e":-0.676},{"p":"j","l":3,"t":"b","k":0.382,"e":-0.979},{"p":"j","l":3,"t":"b","k":0.426,"e":-1.102},
{"p":"j","l":4,"t":"r","k":0.144,"e":0.2},{"p":"j","l":4,"t":"r","k":0.23,"e":-0.176},{"p":"j","l":4,"t":"r","k":0.315,"e":-0.478},{"p":"j","l":4,"t":"r","k":0.401,"e":-0.713},{"p":"j","l":4,"t":"r","k":0.486,"e":-0.889},{"p":"j","l":4,"t":"r","k":0.572,"e":-1.015},
{"p":"j","l":5,"t":"b","k":0.21,"e":0.2},{"p":"j","l":5,"t":"b","k":0.289,"e":-0.136},{"p":"j","l":5,"t":"b","k":0.368,"e":-0.406},{"p":"j","l":5,"t":"b","k":0.447,"e":-0.615},{"p":"j","l":5,"t":"b","k":0.566,"e":-0.835},{"p":"j","l":5,"t":"b","k":0.684,"e":-0.962},{"p":"j","l":5,"t":"b","k":0.763,"e":-1.008},{"p":"j","l":5,"t":"b","k":0.842,"e":-1.031},
{"p":"j","l":6,"t":"r","k":0.24,"e":0.2},{"p":"j","l":6,"t":"r","k":0.316,"e":-0.025},{"p":"j","l":6,"t":"r","k":0.392,"e":-0.205},{"p":"j","l":6,"t":"r","k":0.468,"e":-0.345},{"p":"j","l":6,"t":"r","k":0.582,"e":-0.492},{"p":"j","l":6,"t":"r","k":0.696,"e":-0.577},{"p":"j","l":6,"t":"r","k":0.848,"e":-0.623},{"p":"j","l":6,"t":"r","k":1,"e":-0.63},
{"p":"j","l":7,"t":"r","k":0.475,"e":0.2},{"p":"j","l":7,"t":"r","k":0.528,"e":0.064},{"p":"j","l":7,"t":"r","k":0.58,"e":-0.057},{"p":"j","l":7,"t":"r","k":0.633,"e":-0.165},{"p":"j","l":7,"t":"r","k":0.711,"e":-0.299},{"p":"j","l":7,"t":"r","k":0.79,"e":-0.401},{"p":"j","l":7,"t":"r","k":0.895,"e":-0.486},{"p":"j","l":7,"t":"r","k":1,"e":-0.515},
{"p":"j","l":8,"t":"b","k":0.57,"e":0.2},{"p":"j","l":8,"t":"b","k":0.613,"e":0.094},{"p":"j","l":8,"t":"b","k":0.656,"e":0},{"p":"j","l":8,"t":"b","k":0.699,"e":-0.086},{"p":"j","l":8,"t":"b","k":0.764,"e":-0.191},{"p":"j","l":8,"t":"b","k":0.828,"e":-0.27},{"p":"j","l":8,"t":"b","k":0.914,"e":-0.338},{"p":"j","l":8,"t":"b","k":1,"e":-0.36}
]},
"columns":5,
"spacing":{"row":48,"column":54},
"bounds":"flush",
"concat":[
{"width":86,"height":192,"title":"a","layer":[
{"data":{"name":"bands"},"transform":[{"filter":"datum.p=='a'"}],"mark":{"type":"line","interpolate":"monotone","clip":true,"strokeWidth":1},"encoding":{"x":{"field":"k","type":"quantitative","scale":{"domain":[0,1],"nice":false},"axis":{"values":[0,1],"labelExpr":"datum.value==0?'Γ':'X'","title":"K-points","labelFlush":false}},"y":{"field":"e","type":"quantitative","scale":{"domain":[-1,0.2],"nice":false,"zero":false},"axis":{"values":[-1,-0.8,-0.6,-0.4,-0.2,0,0.2],"tickCount":7,"format":".1f","title":"Energy (eV)"}},"color":{"field":"t","type":"nominal","scale":{"domain":["b","r"],"range":["#5050ff","#b0403f"]},"legend":null},"strokeDash":{"field":"t","type":"nominal","scale":{"domain":["b","r"],"range":[[1,0],[2.5,1.5]]},"legend":null},"detail":{"field":"l","type":"nominal"}}},
{"data":{"values":[{}]},"mark":{"type":"rule","color":"#a8504c","strokeWidth":1.1},"encoding":{"y":{"datum":0}}},
{"data":{"values":[{}]},"mark":{"type":"rule","color":"#a8504c","strokeWidth":1.3},"encoding":{"x":{"datum":0}}},
{"data":{"values":[{}]},"mark":{"type":"text","align":"right","baseline":"top","dx":-2,"dy":7,"fontSize":8.5,"color":"#333"},"encoding":{"x":{"datum":1},"y":{"datum":0.2},"text":{"value":"CeSb"}}}]},
{"width":86,"height":192,"title":"b","layer":[
{"data":{"name":"bands"},"transform":[{"filter":"datum.p=='b'"}],"mark":{"type":"line","interpolate":"monotone","clip":true,"strokeWidth":1},"encoding":{"x":{"field":"k","type":"quantitative","scale":{"domain":[0,1],"nice":false},"axis":{"values":[0,1],"labelExpr":"datum.value==0?'Γ':'X'","title":"K-points","labelFlush":false}},"y":{"field":"e","type":"quantitative","scale":{"domain":[-1,0.2],"nice":false,"zero":false},"axis":{"values":[-1,-0.8,-0.6,-0.4,-0.2,0,0.2],"tickCount":7,"format":".1f","title":"Energy (eV)"}},"color":{"field":"t","type":"nominal","scale":{"domain":["b","r"],"range":["#5050ff","#b0403f"]},"legend":null},"strokeDash":{"field":"t","type":"nominal","scale":{"domain":["b","r"],"range":[[1,0],[2.5,1.5]]},"legend":null},"detail":{"field":"l","type":"nominal"}}},
{"data":{"values":[{}]},"mark":{"type":"rule","color":"#a8504c","strokeWidth":1.1},"encoding":{"y":{"datum":0}}},
{"data":{"values":[{}]},"mark":{"type":"rule","color":"#a8504c","strokeWidth":1.3},"encoding":{"x":{"datum":0}}},
{"data":{"values":[{}]},"mark":{"type":"text","align":"right","baseline":"top","dx":-2,"dy":7,"fontSize":8.5,"color":"#333"},"encoding":{"x":{"datum":1},"y":{"datum":0.2},"text":{"value":"PrSb"}}}]},
{"width":86,"height":192,"title":"c","layer":[
{"data":{"name":"bands"},"transform":[{"filter":"datum.p=='c'"}],"mark":{"type":"line","interpolate":"monotone","clip":true,"strokeWidth":1},"encoding":{"x":{"field":"k","type":"quantitative","scale":{"domain":[0,1],"nice":false},"axis":{"values":[0,1],"labelExpr":"datum.value==0?'Γ':'X'","title":"K-points","labelFlush":false}},"y":{"field":"e","type":"quantitative","scale":{"domain":[-1,0.2],"nice":false,"zero":false},"axis":{"values":[-1,-0.8,-0.6,-0.4,-0.2,0,0.2],"tickCount":7,"format":".1f","title":"Energy (eV)"}},"color":{"field":"t","type":"nominal","scale":{"domain":["b","r"],"range":["#5050ff","#b0403f"]},"legend":null},"strokeDash":{"field":"t","type":"nominal","scale":{"domain":["b","r"],"range":[[1,0],[2.5,1.5]]},"legend":null},"detail":{"field":"l","type":"nominal"}}},
{"data":{"values":[{}]},"mark":{"type":"rule","color":"#a8504c","strokeWidth":1.1},"encoding":{"y":{"datum":0}}},
{"data":{"values":[{}]},"mark":{"type":"rule","color":"#a8504c","strokeWidth":1.3},"encoding":{"x":{"datum":0}}},
{"data":{"values":[{}]},"mark":{"type":"text","align":"right","baseline":"top","dx":-2,"dy":7,"fontSize":8.5,"color":"#333"},"encoding":{"x":{"datum":1},"y":{"datum":0.2},"text":{"value":"SmSb"}}}]},
{"width":86,"height":192,"title":"d","layer":[
{"data":{"name":"bands"},"transform":[{"filter":"datum.p=='d'"}],"mark":{"type":"line","interpolate":"monotone","clip":true,"strokeWidth":1},"encoding":{"x":{"field":"k","type":"quantitative","scale":{"domain":[0,1],"nice":false},"axis":{"values":[0,1],"labelExpr":"datum.value==0?'Γ':'X'","title":"K-points","labelFlush":false}},"y":{"field":"e","type":"quantitative","scale":{"domain":[-1,0.2],"nice":false,"zero":false},"axis":{"values":[-1,-0.8,-0.6,-0.4,-0.2,0,0.2],"tickCount":7,"format":".1f","title":"Energy (eV)"}},"color":{"field":"t","type":"nominal","scale":{"domain":["b","r"],"range":["#5050ff","#b0403f"]},"legend":null},"strokeDash":{"field":"t","type":"nominal","scale":{"domain":["b","r"],"range":[[1,0],[2.5,1.5]]},"legend":null},"detail":{"field":"l","type":"nominal"}}},
{"data":{"values":[{}]},"mark":{"type":"rule","color":"#a8504c","strokeWidth":1.1},"encoding":{"y":{"datum":0}}},
{"data":{"values":[{}]},"mark":{"type":"rule","color":"#a8504c","strokeWidth":1.3},"encoding":{"x":{"datum":0}}},
{"data":{"values":[{}]},"mark":{"type":"text","align":"right","baseline":"top","dx":-2,"dy":7,"fontSize":8.5,"color":"#333"},"encoding":{"x":{"datum":1},"y":{"datum":0.2},"text":{"value":"GdSb"}}}]},
{"width":86,"height":192,"title":"e","layer":[
{"data":{"name":"bands"},"transform":[{"filter":"datum.p=='e'"}],"mark":{"type":"line","interpolate":"monotone","clip":true,"strokeWidth":1},"encoding":{"x":{"field":"k","type":"quantitative","scale":{"domain":[0,1],"nice":false},"axis":{"values":[0,1],"labelExpr":"datum.value==0?'Γ':'X'","title":"K-points","labelFlush":false}},"y":{"field":"e","type":"quantitative","scale":{"domain":[-1,0.2],"nice":false,"zero":false},"axis":{"values":[-1,-0.8,-0.6,-0.4,-0.2,0,0.2],"tickCount":7,"format":".1f","title":"Energy (eV)"}},"color":{"field":"t","type":"nominal","scale":{"domain":["b","r"],"range":["#5050ff","#b0403f"]},"legend":null},"strokeDash":{"field":"t","type":"nominal","scale":{"domain":["b","r"],"range":[[1,0],[2.5,1.5]]},"legend":null},"detail":{"field":"l","type":"nominal"}}},
{"data":{"values":[{}]},"mark":{"type":"rule","color":"#a8504c","strokeWidth":1.1},"encoding":{"y":{"datum":0}}},
{"data":{"values":[{}]},"mark":{"type":"rule","color":"#a8504c","strokeWidth":1.3},"encoding":{"x":{"datum":0}}},
{"data":{"values":[{}]},"mark":{"type":"text","align":"right","baseline":"top","dx":-2,"dy":7,"fontSize":8.5,"color":"#333"},"encoding":{"x":{"datum":1},"y":{"datum":0.2},"text":{"value":"YbSb"}}}]},
{"width":86,"height":192,"title":"f","layer":[
{"data":{"name":"bands"},"transform":[{"filter":"datum.p=='f'"}],"mark":{"type":"line","interpolate":"monotone","clip":true,"strokeWidth":1},"encoding":{"x":{"field":"k","type":"quantitative","scale":{"domain":[0,1],"nice":false},"axis":{"values":[0,1],"labelExpr":"datum.value==0?'Γ':'X'","title":"K-points","labelFlush":false}},"y":{"field":"e","type":"quantitative","scale":{"domain":[-1,0.2],"nice":false,"zero":false},"axis":{"values":[-1,-0.8,-0.6,-0.4,-0.2,0,0.2],"tickCount":7,"format":".1f","title":"Energy (eV)"}},"color":{"field":"t","type":"nominal","scale":{"domain":["b","r"],"range":["#5050ff","#b0403f"]},"legend":null},"strokeDash":{"field":"t","type":"nominal","scale":{"domain":["b","r"],"range":[[1,0],[2.5,1.5]]},"legend":null},"detail":{"field":"l","type":"nominal"}}},
{"data":{"values":[{}]},"mark":{"type":"rule","color":"#a8504c","strokeWidth":1.1},"encoding":{"y":{"datum":0}}},
{"data":{"values":[{}]},"mark":{"type":"rule","color":"#a8504c","strokeWidth":1.3},"encoding":{"x":{"datum":0}}},
{"data":{"values":[{}]},"mark":{"type":"text","align":"right","baseline":"top","dx":-2,"dy":7,"fontSize":8.5,"color":"#333"},"encoding":{"x":{"datum":1},"y":{"datum":0.2},"text":{"value":"CeSb"}}}]},
{"width":86,"height":192,"title":"g","layer":[
{"data":{"name":"bands"},"transform":[{"filter":"datum.p=='g'"}],"mark":{"type":"line","interpolate":"monotone","clip":true,"strokeWidth":1},"encoding":{"x":{"field":"k","type":"quantitative","scale":{"domain":[0,1],"nice":false},"axis":{"values":[0,1],"labelExpr":"datum.value==0?'Γ':'X'","title":"K-points","labelFlush":false}},"y":{"field":"e","type":"quantitative","scale":{"domain":[-1,0.2],"nice":false,"zero":false},"axis":{"values":[-1,-0.8,-0.6,-0.4,-0.2,0,0.2],"tickCount":7,"format":".1f","title":"Energy (eV)"}},"color":{"field":"t","type":"nominal","scale":{"domain":["b","r"],"range":["#5050ff","#b0403f"]},"legend":null},"strokeDash":{"field":"t","type":"nominal","scale":{"domain":["b","r"],"range":[[1,0],[2.5,1.5]]},"legend":null},"detail":{"field":"l","type":"nominal"}}},
{"data":{"values":[{}]},"mark":{"type":"rule","color":"#a8504c","strokeWidth":1.1},"encoding":{"y":{"datum":0}}},
{"data":{"values":[{}]},"mark":{"type":"rule","color":"#a8504c","strokeWidth":1.3},"encoding":{"x":{"datum":0}}},
{"data":{"values":[{}]},"mark":{"type":"text","align":"right","baseline":"top","dx":-2,"dy":7,"fontSize":8.5,"color":"#333"},"encoding":{"x":{"datum":1},"y":{"datum":0.2},"text":{"value":"PrSb"}}}]},
{"width":86,"height":192,"title":"h","layer":[
{"data":{"name":"bands"},"transform":[{"filter":"datum.p=='h'"}],"mark":{"type":"line","interpolate":"monotone","clip":true,"strokeWidth":1},"encoding":{"x":{"field":"k","type":"quantitative","scale":{"domain":[0,1],"nice":false},"axis":{"values":[0,1],"labelExpr":"datum.value==0?'Γ':'X'","title":"K-points","labelFlush":false}},"y":{"field":"e","type":"quantitative","scale":{"domain":[-1,0.2],"nice":false,"zero":false},"axis":{"values":[-1,-0.8,-0.6,-0.4,-0.2,0,0.2],"tickCount":7,"format":".1f","title":"Energy (eV)"}},"color":{"field":"t","type":"nominal","scale":{"domain":["b","r"],"range":["#5050ff","#b0403f"]},"legend":null},"strokeDash":{"field":"t","type":"nominal","scale":{"domain":["b","r"],"range":[[1,0],[2.5,1.5]]},"legend":null},"detail":{"field":"l","type":"nominal"}}},
{"data":{"values":[{}]},"mark":{"type":"rule","color":"#a8504c","strokeWidth":1.1},"encoding":{"y":{"datum":0}}},
{"data":{"values":[{}]},"mark":{"type":"rule","color":"#a8504c","strokeWidth":1.3},"encoding":{"x":{"datum":0}}},
{"data":{"values":[{}]},"mark":{"type":"text","align":"right","baseline":"top","dx":-2,"dy":7,"fontSize":8.5,"color":"#333"},"encoding":{"x":{"datum":1},"y":{"datum":0.2},"text":{"value":"SmSb"}}}]},
{"width":86,"height":192,"title":"i","layer":[
{"data":{"name":"bands"},"transform":[{"filter":"datum.p=='i'"}],"mark":{"type":"line","interpolate":"monotone","clip":true,"strokeWidth":1},"encoding":{"x":{"field":"k","type":"quantitative","scale":{"domain":[0,1],"nice":false},"axis":{"values":[0,1],"labelExpr":"datum.value==0?'Γ':'X'","title":"K-points","labelFlush":false}},"y":{"field":"e","type":"quantitative","scale":{"domain":[-1,0.2],"nice":false,"zero":false},"axis":{"values":[-1,-0.8,-0.6,-0.4,-0.2,0,0.2],"tickCount":7,"format":".1f","title":"Energy (eV)"}},"color":{"field":"t","type":"nominal","scale":{"domain":["b","r"],"range":["#5050ff","#b0403f"]},"legend":null},"strokeDash":{"field":"t","type":"nominal","scale":{"domain":["b","r"],"range":[[1,0],[2.5,1.5]]},"legend":null},"detail":{"field":"l","type":"nominal"}}},
{"data":{"values":[{}]},"mark":{"type":"rule","color":"#a8504c","strokeWidth":1.1},"encoding":{"y":{"datum":0}}},
{"data":{"values":[{}]},"mark":{"type":"rule","color":"#a8504c","strokeWidth":1.3},"encoding":{"x":{"datum":0}}},
{"data":{"values":[{}]},"mark":{"type":"text","align":"right","baseline":"top","dx":-2,"dy":7,"fontSize":8.5,"color":"#333"},"encoding":{"x":{"datum":1},"y":{"datum":0.2},"text":{"value":"GdSb"}}}]},
{"width":86,"height":192,"title":"j","layer":[
{"data":{"name":"bands"},"transform":[{"filter":"datum.p=='j'"}],"mark":{"type":"line","interpolate":"monotone","clip":true,"strokeWidth":1},"encoding":{"x":{"field":"k","type":"quantitative","scale":{"domain":[0,1],"nice":false},"axis":{"values":[0,1],"labelExpr":"datum.value==0?'Γ':'X'","title":"K-points","labelFlush":false}},"y":{"field":"e","type":"quantitative","scale":{"domain":[-1,0.2],"nice":false,"zero":false},"axis":{"values":[-1,-0.8,-0.6,-0.4,-0.2,0,0.2],"tickCount":7,"format":".1f","title":"Energy (eV)"}},"color":{"field":"t","type":"nominal","scale":{"domain":["b","r"],"range":["#5050ff","#b0403f"]},"legend":null},"strokeDash":{"field":"t","type":"nominal","scale":{"domain":["b","r"],"range":[[1,0],[2.5,1.5]]},"legend":null},"detail":{"field":"l","type":"nominal"}}},
{"data":{"values":[{}]},"mark":{"type":"rule","color":"#a8504c","strokeWidth":1.1},"encoding":{"y":{"datum":0}}},
{"data":{"values":[{}]},"mark":{"type":"rule","color":"#a8504c","strokeWidth":1.3},"encoding":{"x":{"datum":0}}},
{"data":{"values":[{}]},"mark":{"type":"text","align":"right","baseline":"top","dx":-2,"dy":7,"fontSize":8.5,"color":"#333"},"encoding":{"x":{"datum":1},"y":{"datum":0.2},"text":{"value":"YbSb"}}}]}
]
}
